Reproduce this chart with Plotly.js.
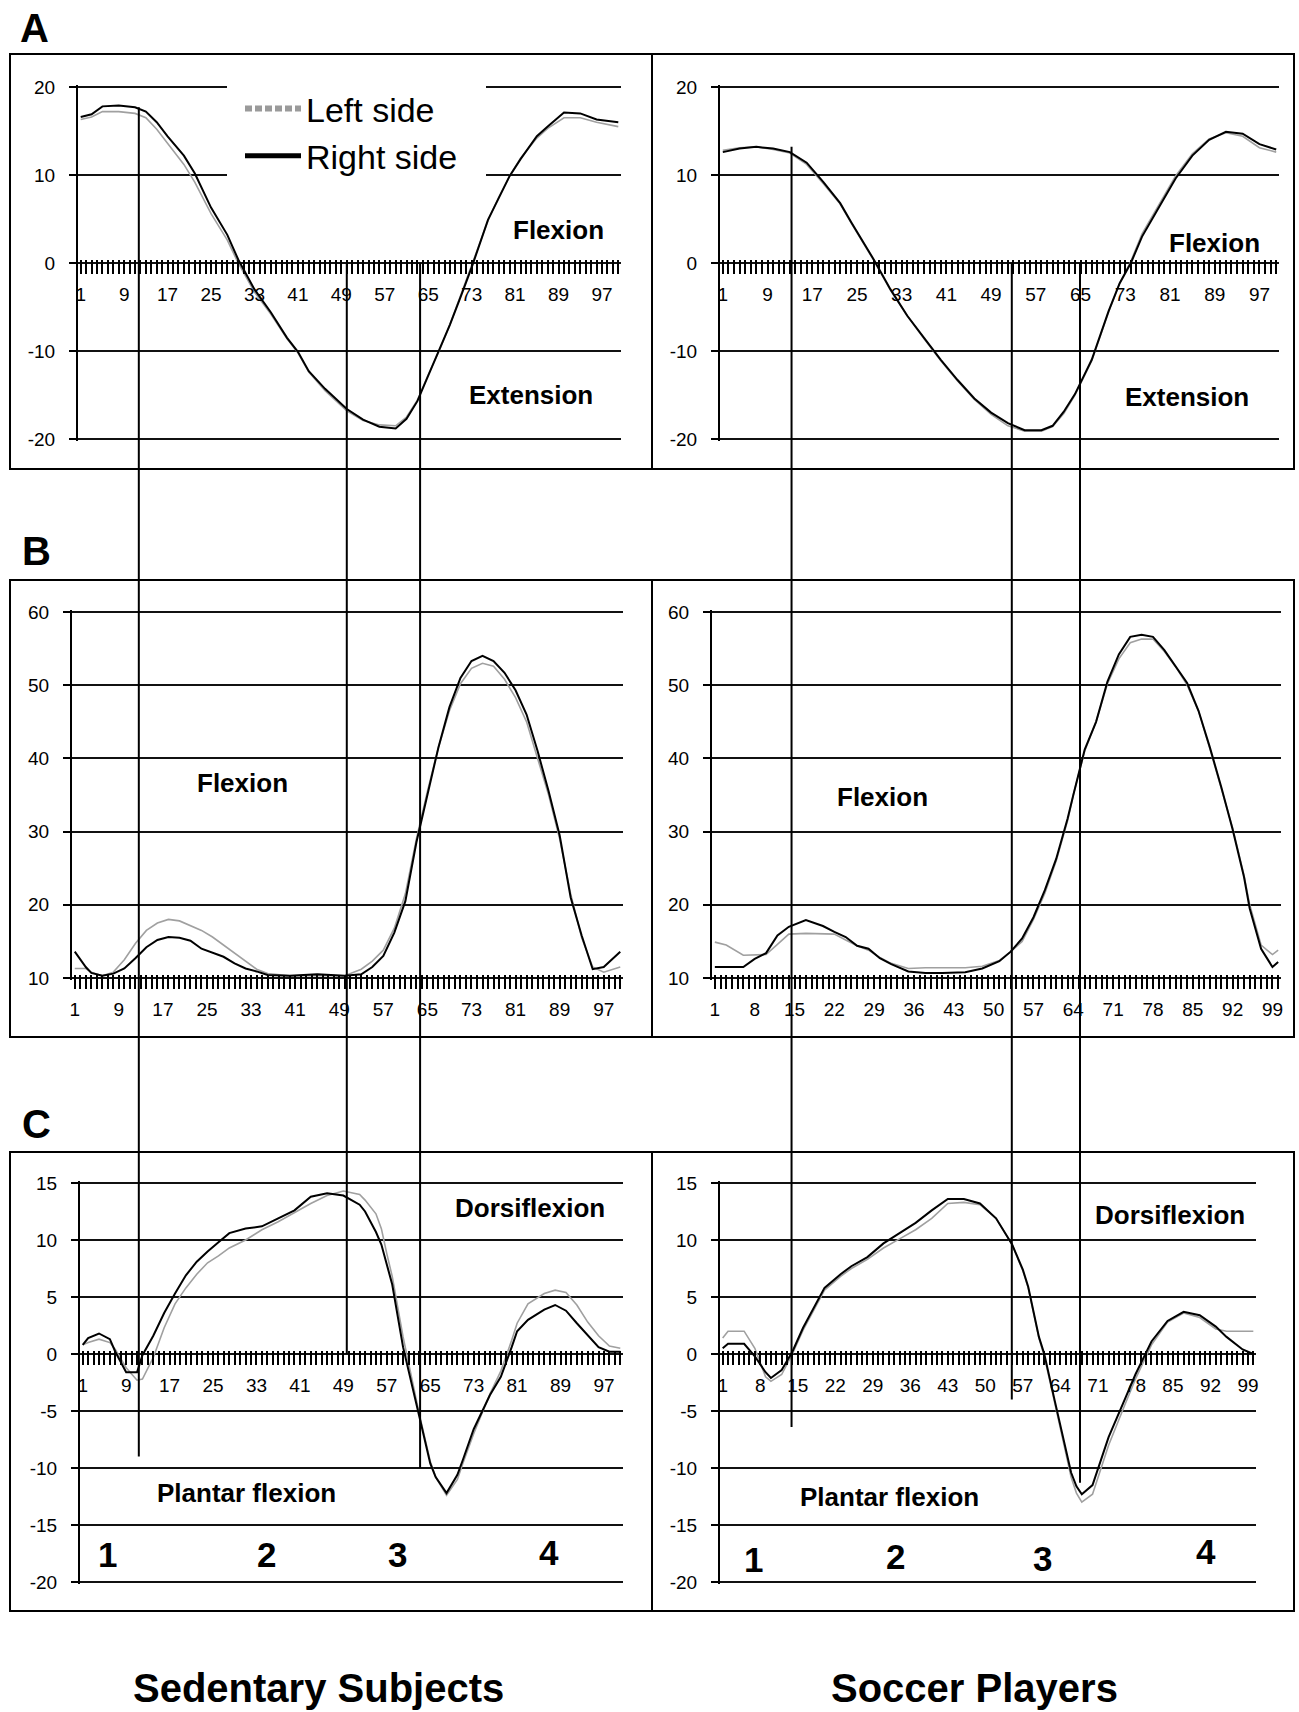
<!DOCTYPE html>
<html>
<head>
<meta charset="utf-8">
<script src="https://cdn.plot.ly/plotly-3.0.1.min.js"></script>
<style>
html,body{margin:0;padding:0;background:#fff;}
#chart{width:1299px;height:1712px;}
</style>
</head>
<body>
<div id="chart"></div>
<script>
// ---------------- DATA ----------------
// gait cycle categories (1..100 %) used for the category ticks
const gaitCategories = [1,2,3,4,5,6,7,8,9,10,11,12,13,14,15,16,17,18,19,20,21,22,23,24,25,26,27,28,29,30,31,32,33,34,35,36,37,38,39,40,41,42,43,44,45,46,47,48,49,50,51,52,53,54,55,56,57,58,59,60,61,62,63,64,65,66,67,68,69,70,71,72,73,74,75,76,77,78,79,80,81,82,83,84,85,86,87,88,89,90,91,92,93,94,95,96,97,98,99,100];
const tickLabelsStep8 = [1,9,17,25,33,41,49,57,65,73,81,89,97];
const tickLabelsStep7 = [1,8,15,22,29,36,43,50,57,64,71,78,85,92,99];
const yTicksHip   = [-20,-10,0,10,20];
const yTicksKnee  = [10,20,30,40,50,60];
const yTicksAnkle = [-20,-15,-10,-5,0,5,10,15];

// A - hip, sedentary subjects
const hipSedentaryX     = [1,3,5,8,11,13,15,17,20,22,25,28,30,33,36,39,41,43,46,50,53,56,59,61,63,65,67,69,71,73,76,78,80,82,85,87,90,93,96,100];
const hipSedentaryRight = [16.6,16.9,17.8,17.9,17.7,17.2,16.0,14.4,12.2,10.2,6.3,3.2,0.4,-3.0,-5.6,-8.5,-10.1,-12.3,-14.3,-16.6,-17.8,-18.6,-18.8,-17.7,-15.7,-12.8,-10.1,-7.0,-3.8,-0.5,4.9,7.4,9.9,11.8,14.4,15.5,17.1,17.0,16.3,16.0];
const hipSedentaryLeft  = [16.3,16.6,17.2,17.2,17.0,16.5,15.2,13.6,11.2,9.2,5.6,2.6,0.0,-3.3,-5.8,-8.6,-10.2,-12.4,-14.5,-16.8,-17.9,-18.4,-18.5,-17.5,-15.6,-12.7,-10.0,-7.0,-3.6,-0.3,4.8,7.5,9.9,11.9,14.2,15.3,16.5,16.5,16.0,15.5];

// A - hip, soccer players
const hipSoccerX     = [1,4,7,10,13,16,19,22,24,26,28,31,34,37,40,43,46,49,52,55,58,60,62,64,67,70,72,74,76,79,82,85,88,91,94,97,100];
const hipSoccerRight = [12.6,13.0,13.2,13.0,12.6,11.4,9.2,6.8,4.6,2.5,0.4,-3.0,-6.0,-8.5,-11.0,-13.3,-15.4,-17.0,-18.2,-19.0,-19.0,-18.5,-16.9,-14.9,-11.0,-5.5,-2.3,0.0,3.0,6.3,9.6,12.2,14.0,14.9,14.7,13.5,12.9];
const hipSoccerLeft  = [12.8,13.1,13.2,12.9,12.5,11.2,9.0,6.7,4.5,2.4,0.3,-3.1,-6.0,-8.6,-11.1,-13.4,-15.5,-17.2,-18.5,-19.1,-19.1,-18.6,-17.1,-15.0,-11.1,-5.6,-2.3,0.2,3.3,6.6,9.9,12.4,14.1,14.8,14.4,13.1,12.6];

// B - knee, sedentary subjects
const kneeSedentaryX     = [1,3,4,6,8,10,12,14,16,18,20,22,24,26,28,30,32,34,36,40,45,50,53,55,57,59,61,63,65,67,69,71,73,75,77,79,81,83,85,87,89,91,93,95,97,100];
const kneeSedentaryRight = [13.6,11.5,10.7,10.3,10.6,11.3,12.7,14.2,15.2,15.6,15.5,15.1,14.0,13.4,12.9,12.0,11.3,10.9,10.4,10.3,10.5,10.3,10.5,11.5,13.0,16.2,20.5,28.5,35.0,41.5,47.0,51.0,53.3,54.0,53.3,51.7,49.3,46.0,41.0,35.5,29.5,21.0,15.8,11.2,11.5,13.6];
const kneeSedentaryLeft  = [11.3,11.3,10.8,10.3,10.8,12.5,14.7,16.5,17.5,18.0,17.8,17.2,16.5,15.6,14.5,13.4,12.3,11.2,10.6,10.3,10.3,10.3,11.2,12.3,13.8,16.8,21.5,29.0,35.5,41.5,46.5,50.2,52.3,53.0,52.6,50.8,48.3,45.0,40.0,35.0,29.0,21.5,15.5,11.5,10.8,11.5];

// B - knee, soccer players
const kneeSoccerX     = [1,3,6,8,10,12,14,17,20,22,24,26,28,30,32,35,38,41,45,48,51,53,55,57,59,61,63,64,66,68,70,72,74,76,78,80,82,84,86,88,90,92,94,95,97,99,100];
const kneeSoccerRight = [11.5,11.5,11.5,12.6,13.4,15.8,17.0,17.9,17.1,16.3,15.6,14.4,14.0,12.7,11.9,10.9,10.7,10.7,10.8,11.3,12.3,13.6,15.4,18.3,22.0,26.3,31.8,35.0,41.2,45.0,50.5,54.2,56.6,56.9,56.6,54.8,52.6,50.3,46.5,41.5,36.1,30.3,23.8,19.5,14.0,11.5,12.2];
const kneeSoccerLeft  = [14.9,14.5,13.1,13.1,13.2,14.6,16.0,16.1,16.1,16.0,15.2,14.4,13.8,12.8,12.0,11.3,11.4,11.4,11.4,11.6,12.4,13.6,15.0,18.0,21.6,26.0,31.5,35.0,41.0,45.0,50.2,53.6,55.8,56.3,56.3,54.6,52.5,50.0,46.5,41.3,36.0,30.5,24.0,20.0,14.5,13.2,13.8];

// C - ankle, sedentary subjects
const ankleSedentaryX     = [1,2,4,6,7,9,11,12,14,16,18,20,22,24,26,28,31,34,37,40,43,46,49,52,53,55,56,57,58,60,62,63,65,66,68,70,71,73,76,78,80,81,83,86,88,90,92,94,96,98,100];
const ankleSedentaryRight = [0.8,1.4,1.8,1.3,0.2,-1.6,-1.6,-0.1,1.6,3.6,5.3,6.9,8.1,9.0,9.8,10.6,11.0,11.2,11.9,12.6,13.8,14.1,13.9,13.1,12.5,10.7,9.6,7.8,6.1,0.6,-3.3,-5.5,-9.6,-10.8,-12.2,-10.6,-9.3,-6.6,-3.6,-2.0,0.6,2.0,3.0,3.9,4.3,3.8,2.7,1.6,0.6,0.2,0.2];
const ankleSedentaryLeft  = [0.8,1.0,1.3,1.0,0.4,-1.2,-2.3,-2.2,-0.3,2.3,4.4,5.8,7.0,8.0,8.6,9.3,10.0,10.9,11.6,12.4,13.2,13.9,14.3,14.0,13.5,12.3,11.0,8.8,6.8,1.5,-3.0,-5.3,-9.4,-10.8,-12.4,-11.0,-9.6,-7.0,-3.5,-1.5,1.2,2.7,4.4,5.3,5.6,5.4,4.3,2.8,1.6,0.7,0.5];

// C - ankle, soccer players
const ankleSoccerX     = [1,2,5,7,9,10,12,14,16,18,20,23,25,28,31,34,37,40,43,46,49,52,55,57,58,60,61,63,64,66,67,68,70,72,73,76,78,81,84,87,90,93,95,98,100];
const ankleSoccerRight = [0.5,0.9,0.9,-0.2,-1.6,-2.1,-1.4,0.2,2.3,4.1,5.8,7.0,7.7,8.5,9.7,10.6,11.5,12.6,13.6,13.6,13.2,11.9,9.6,7.4,5.9,1.5,0.0,-4.2,-6.2,-10.4,-11.6,-12.3,-11.5,-8.8,-7.3,-4.0,-1.8,1.1,2.9,3.7,3.4,2.4,1.5,0.4,0.0];
const ankleSoccerLeft  = [1.4,2.0,2.0,0.5,-2.0,-2.4,-1.8,0.0,2.1,3.8,5.6,6.8,7.5,8.3,9.3,10.1,10.9,11.9,13.2,13.3,13.1,11.9,9.6,7.3,5.8,1.4,-0.2,-4.4,-6.5,-10.8,-12.2,-13.0,-12.3,-9.5,-8.0,-4.5,-2.2,0.8,2.8,3.6,3.2,2.2,2.0,2.0,2.0];

// gait events (vertical reference lines): x position, value where they start (A) and end (C)
const eventSedentaryX    = [11.7, 50.0, 63.5];
const eventSedentaryFrom = [17.7, 0, 0];
const eventSedentaryTo   = [-9.0, 0, -10.0];
const eventSoccerX    = [13.3, 52.7, 64.9];
const eventSoccerFrom = [13.2, 0, 0];
const eventSoccerTo   = [-6.4, -4.0, -11.3];

const seriesNames = ['Left side', 'Right side'];

// ---------------- LAYOUT ----------------
const W = 1299, H = 1712;
const px = v => v / W;
const py = v => 1 - v / H;

const FONT = 'Liberation Sans, Arial, sans-serif';

// yPx: pixel rows of the top and bottom gridlines
const panels = [
  {n:'',  xPx:[78,621],   yPx:[87,439],    yRange:[-20,20], yTicks:yTicksHip,   axisAt:0,  labels:tickLabelsStep8, xs:hipSedentaryX,   right:hipSedentaryRight,   left:hipSedentaryLeft},
  {n:'2', xPx:[720,1279], yPx:[87,439],    yRange:[-20,20], yTicks:yTicksHip,   axisAt:0,  labels:tickLabelsStep8, xs:hipSoccerX,      right:hipSoccerRight,      left:hipSoccerLeft},
  {n:'3', xPx:[72,623],   yPx:[612,978],   yRange:[10,60],  yTicks:yTicksKnee,  axisAt:10, labels:tickLabelsStep8, xs:kneeSedentaryX,  right:kneeSedentaryRight,  left:kneeSedentaryLeft},
  {n:'4', xPx:[712,1281], yPx:[612,978],   yRange:[10,60],  yTicks:yTicksKnee,  axisAt:10, labels:tickLabelsStep7, xs:kneeSoccerX,     right:kneeSoccerRight,     left:kneeSoccerLeft},
  {n:'5', xPx:[80,623],   yPx:[1183,1582], yRange:[-20,15], yTicks:yTicksAnkle, axisAt:0,  labels:tickLabelsStep8, xs:ankleSedentaryX, right:ankleSedentaryRight, left:ankleSedentaryLeft},
  {n:'6', xPx:[720,1256], yPx:[1183,1582], yRange:[-20,15], yTicks:yTicksAnkle, axisAt:0,  labels:tickLabelsStep7, xs:ankleSoccerX,    right:ankleSoccerRight,    left:ankleSoccerLeft}
];
// pad each plot area by 2px so the edge gridlines are not clipped
const PAD = 2;
panels.forEach(p => {
  const perPx = (p.yRange[1] - p.yRange[0]) / (p.yPx[1] - p.yPx[0]);
  p.range = [p.yRange[0] - PAD * perPx, p.yRange[1] + PAD * perPx];
  p.domPx = [p.yPx[0] - PAD, p.yPx[1] + PAD];
});

function valToPx(p, v) {
  return p.domPx[0] + (p.range[1] - v) / (p.range[1] - p.range[0]) * (p.domPx[1] - p.domPx[0]);
}

const layout = {
  width: W, height: H,
  margin: {l:0, r:0, t:0, b:0},
  paper_bgcolor: '#ffffff',
  plot_bgcolor: 'rgba(0,0,0,0)',
  font: {family: FONT, color: '#000'},
  hovermode: false,
  showlegend: true,
  legend: {
    x: px(240), xanchor: 'left', y: py(80), yanchor: 'top',
    bgcolor: '#ffffff', borderwidth: 0,
    font: {family: FONT, size: 34, color: '#000'},
    itemwidth: 56, tracegroupgap: 0, itemclick: false, itemdoubleclick: false
  },
  shapes: [],
  annotations: []
};

const traces = [];
panels.forEach(p => {
  const xk = 'xaxis' + p.n, yk = 'yaxis' + p.n;
  const xr = 'x' + p.n, yr = 'y' + p.n;
  layout[xk] = {
    domain: [px(p.xPx[0]), px(p.xPx[1])],
    range: [0.5, 100.5],
    anchor: 'free',
    position: py(valToPx(p, p.axisAt) - 4),
    showline: false, showgrid: false, zeroline: false,
    ticks: 'outside', ticklen: 14, tickwidth: 2, tickcolor: '#000',
    tickmode: 'array',
    tickvals: gaitCategories,
    ticktext: gaitCategories.map(c => p.labels.indexOf(c) >= 0 ? String(c) : ''),
    tickfont: {family: FONT, size: 19, color: '#000'},
    ticklabelstandoff: 4,
    fixedrange: true
  };
  layout[yk] = {
    domain: [py(p.domPx[1]), py(p.domPx[0])],
    range: p.range,
    anchor: xr,
    tickmode: 'array',
    tickvals: p.yTicks,
    ticktext: p.yTicks.map(v => String(v)),
    showline: true, linewidth: 2, linecolor: '#000',
    showgrid: true, gridcolor: '#111', gridwidth: 2,
    zeroline: false,
    ticks: 'outside', ticklen: 7, tickwidth: 2, tickcolor: '#000',
    tickfont: {family: FONT, size: 19, color: '#000'},
    ticklabelstandoff: 10,
    fixedrange: true
  };
  traces.push({
    type: 'scatter', mode: 'lines', name: seriesNames[0],
    x: p.xs, y: p.left, xaxis: xr, yaxis: yr,
    line: {color: '#a0a0a0', width: 1.6}, showlegend: false
  });
  traces.push({
    type: 'scatter', mode: 'lines', name: seriesNames[1],
    x: p.xs, y: p.right, xaxis: xr, yaxis: yr,
    line: {color: '#000', width: 2}, showlegend: false
  });
});

// legend entries (no marks drawn)
traces.push({type:'scatter', mode:'lines', name: seriesNames[0], x:[null], y:[null], xaxis:'x', yaxis:'y',
  line:{color:'#9a9a9a', width:6, dash:'7px,3px'}, showlegend:true});
traces.push({type:'scatter', mode:'lines', name: seriesNames[1], x:[null], y:[null], xaxis:'x', yaxis:'y',
  line:{color:'#000', width:5}, showlegend:true});

// white legend area (hides gridlines behind the legend box)
layout.shapes.push({type:'rect', xref:'paper', yref:'paper', x0:px(227), x1:px(486), y0:py(186), y1:py(78),
  fillcolor:'#ffffff', line:{width:0}, layer:'above'});

// panel frames
const rows = [[54,469],[580,1037],[1152,1611]];
rows.forEach(r => {
  layout.shapes.push({type:'rect', xref:'paper', yref:'paper', x0:px(10), x1:px(1294), y0:py(r[1]), y1:py(r[0]),
    line:{color:'#000', width:2}, layer:'below'});
  layout.shapes.push({type:'line', xref:'paper', yref:'paper', x0:px(652), x1:px(652), y0:py(r[1]), y1:py(r[0]),
    line:{color:'#000', width:2}, layer:'below'});
});

// gait event lines
function addEvents(xs, from, to, top, bottom, xref) {
  xs.forEach((x, i) => {
    layout.shapes.push({type:'line', xref: xref, yref:'paper', x0:x, x1:x,
      y0: py(valToPx(top, from[i])), y1: py(valToPx(bottom, to[i])),
      line:{color:'#000', width:2}});
  });
}
addEvents(eventSedentaryX, eventSedentaryFrom, eventSedentaryTo, panels[0], panels[4], 'x');
addEvents(eventSoccerX, eventSoccerFrom, eventSoccerTo, panels[1], panels[5], 'x2');

// text annotations
function ann(text, x, y, xref, yref, size) {
  layout.annotations.push({text: text, x: x, y: y, xref: xref, yref: yref, showarrow: false,
    xanchor: 'center', yanchor: 'middle', font: {family: FONT, size: size, color: '#000'}});
}
// panel letters
ann('<b>A</b>', px(34), py(28), 'paper', 'paper', 40);
ann('<b>B</b>', px(36), py(551), 'paper', 'paper', 40);
ann('<b>C</b>', px(36), py(1124), 'paper', 'paper', 40);
// region labels
ann('<b>Flexion</b>', 89, 3.8, 'x', 'y', 26);
ann('<b>Extension</b>', 84, -15, 'x', 'y', 26);
ann('<b>Flexion</b>', 89, 2.3, 'x2', 'y2', 26);
ann('<b>Extension</b>', 84, -15.2, 'x2', 'y2', 26);
ann('<b>Flexion</b>', 31.4, 36.6, 'x3', 'y3', 26);
ann('<b>Flexion</b>', 30.4, 34.7, 'x4', 'y4', 26);
ann('<b>Dorsiflexion</b>', 83.4, 12.8, 'x5', 'y5', 26);
ann('<b>Plantar flexion</b>', 31.1, -12.2, 'x5', 'y5', 26);
ann('<b>Dorsiflexion</b>', 84.5, 12.2, 'x6', 'y6', 26);
ann('<b>Plantar flexion</b>', 32.2, -12.5, 'x6', 'y6', 26);
// gait phase numbers
[[5.5,-17.6],[34.9,-17.6],[59,-17.6],[86.9,-17.4]].forEach((q, i) => ann('<b>' + (i + 1) + '</b>', q[0], q[1], 'x5', 'y5', 35));
[[6.7,-18],[33.2,-17.8],[60.6,-17.9],[91.2,-17.3]].forEach((q, i) => ann('<b>' + (i + 1) + '</b>', q[0], q[1], 'x6', 'y6', 35));
// group labels
ann('<b>Sedentary Subjects</b>', px(318), py(1688), 'paper', 'paper', 40);
ann('<b>Soccer Players</b>', px(974), py(1688), 'paper', 'paper', 40);

Plotly.newPlot('chart', traces, layout, {staticPlot: true, displayModeBar: false});
</script>
</body>
</html>
